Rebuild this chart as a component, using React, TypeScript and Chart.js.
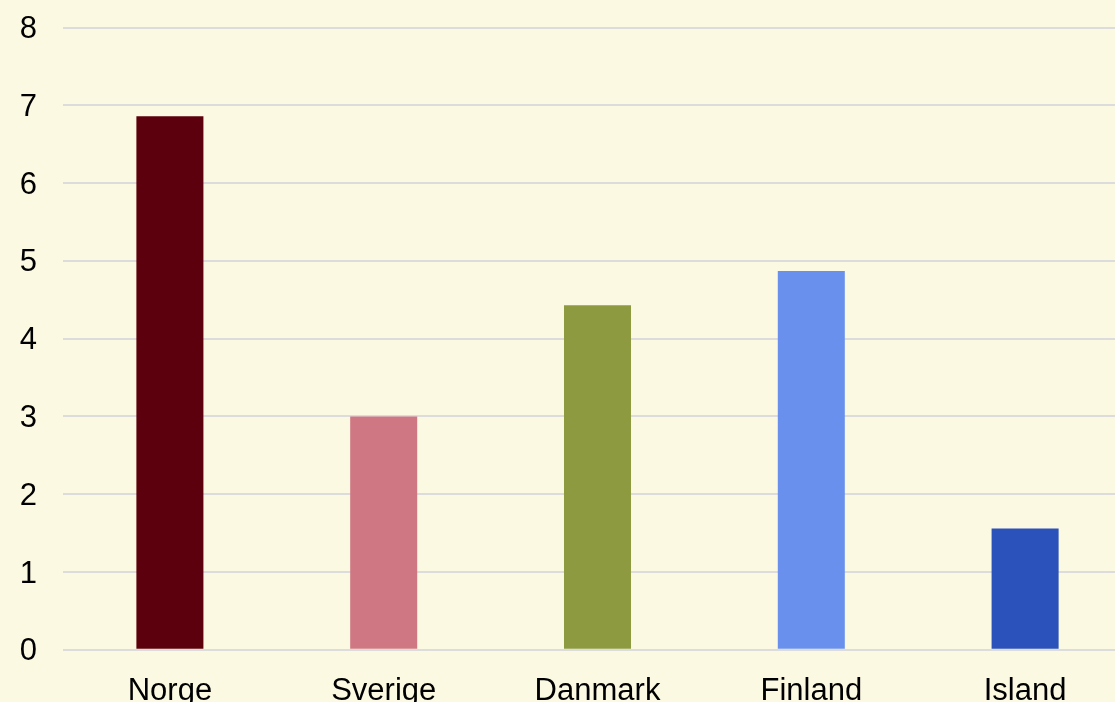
import React, { useEffect, useRef } from "react";
import { Chart, registerables } from "chart.js";

Chart.register(...registerables);

const categories = ["Norge", "Sverige", "Danmark", "Finland", "Island"];
const values = [6.86, 3.0, 4.43, 4.87, 1.56];
const barColors = ["#5C000D", "#CF7884", "#8D9A40", "#6A90EE", "#2A52BA"];
const yTicks = [0, 1, 2, 3, 4, 5, 6, 7, 8];

export default function App() {
  const ref = useRef<HTMLCanvasElement>(null);
  useEffect(() => {
    document.body.style.margin = "0";
    document.body.style.background = "#FCF9E3";
    document.body.style.overflow = "hidden";
    const chart = new Chart(ref.current!, {
      type: "bar",
      data: {
        labels: categories,
        datasets: [
          {
            data: values,
            backgroundColor: barColors,
            barPercentage: 0.3135,
            categoryPercentage: 1,
          },
        ],
      },
      options: {
        animation: false,
        responsive: false,
        maintainAspectRatio: false,
        layout: { padding: 0 },
        plugins: { legend: { display: false }, tooltip: { enabled: false } },
        scales: {
          x: {
            grid: { display: false },
            border: { display: false },
            ticks: {
              color: "#000",
              padding: 15,
              font: { family: "Liberation Sans, Arial", size: 31 },
            },
          },
          y: {
            min: 0,
            max: 8,
            afterFit: (s: any) => {
              s.width = 63;
            },
            afterBuildTicks: (s: any) => {
              s.ticks = yTicks.map((v) => ({ value: v }));
            },
            grid: { color: "#DCDCDC", lineWidth: 2, drawTicks: false },
            border: { display: false },
            ticks: {
              color: "#000",
              padding: 26,
              labelOffset: 2,
              font: { family: "Liberation Sans, Arial", size: 31 },
            },
          },
        },
      },
    });
    return () => chart.destroy();
  }, []);
  return (
    <div style={{ position: "absolute", left: 0, top: 0, width: 1115, height: 702, overflow: "hidden", background: "#FCF9E3" }}>
      <canvas ref={ref} width={1132} height={742} style={{ display: "block", position: "absolute", left: 0, top: -17 }} />
    </div>
  );
}
